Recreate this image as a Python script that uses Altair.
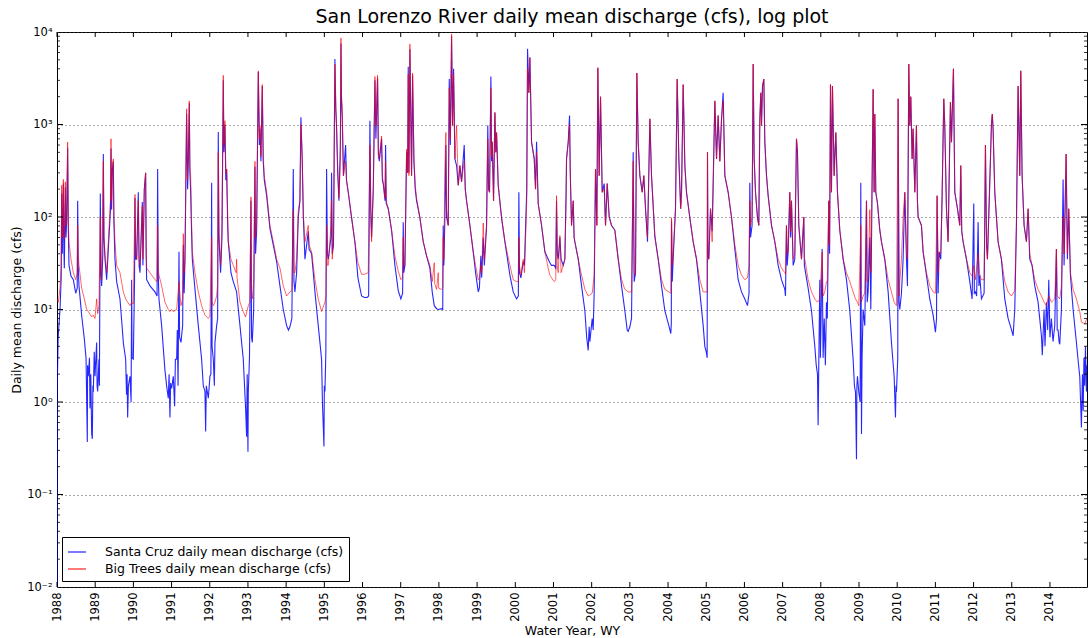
import altair as alt
import pandas as pd

# Daily mean discharge (cfs), sampled at water-year decimal times
santa_cruz = [
    (1988.000, 0.01), (1988.004, 1.3), (1988.030, 5), (1988.079, 10), (1988.110, 22), (1988.122, 180),
    (1988.140, 40), (1988.166, 230), (1988.180, 45), (1988.192, 28), (1988.218, 210), (1988.235, 60),
    (1988.253, 90), (1988.279, 560), (1988.295, 80), (1988.314, 30), (1988.366, 23), (1988.428, 21),
    (1988.489, 15), (1988.530, 17), (1988.541, 150), (1988.555, 30), (1988.576, 18), (1988.646, 8.6),
    (1988.716, 4.8), (1988.760, 3), (1988.794, 0.37), (1988.800, 2.5), (1988.820, 1.9), (1988.850, 3),
    (1988.864, 0.85), (1988.885, 2), (1988.908, 0.45), (1988.925, 0.40), (1988.940, 1.5), (1988.951, 1.28),
    (1988.975, 3.5), (1988.995, 1.9), (1989.038, 4.4), (1989.050, 1.5), (1989.065, 1.3), (1989.099, 2.9),
    (1989.110, 1.5), (1989.134, 180), (1989.150, 25), (1989.169, 18), (1989.200, 40), (1989.213, 480),
    (1989.230, 60), (1989.257, 35), (1989.300, 21), (1989.344, 45), (1989.400, 120), (1989.414, 550),
    (1989.430, 120), (1989.449, 330), (1989.475, 400), (1989.490, 90), (1989.518, 35), (1989.562, 20),
    (1989.649, 13), (1989.700, 7), (1989.736, 4.4), (1989.798, 2.9), (1989.820, 1.2), (1989.835, 2),
    (1989.850, 0.68), (1989.870, 1.5), (1989.911, 1.9), (1989.940, 1), (1989.955, 21), (1989.965, 3),
    (1989.998, 2.9), (1990.030, 20), (1990.042, 160), (1990.060, 35), (1990.086, 35), (1990.129, 185),
    (1990.150, 30), (1990.173, 25), (1990.234, 145), (1990.250, 30), (1990.286, 200), (1990.321, 300),
    (1990.335, 40), (1990.347, 21), (1990.435, 18), (1990.565, 15.5), (1990.620, 14), (1990.635, 330),
    (1990.650, 25), (1990.670, 13), (1990.740, 6.7), (1990.827, 2.2), (1990.870, 1.5), (1990.914, 1.1),
    (1990.935, 2), (1990.958, 0.68), (1990.975, 1.6), (1991.002, 1.4), (1991.045, 1.9), (1991.080, 0.9),
    (1991.100, 2.9), (1991.133, 2.9), (1991.150, 6), (1991.170, 1.5), (1991.194, 42), (1991.210, 5),
    (1991.246, 4.4), (1991.290, 6.7), (1991.307, 50), (1991.330, 15), (1991.351, 35), (1991.394, 1300),
    (1991.420, 200), (1991.438, 400), (1991.464, 1700), (1991.480, 300), (1991.499, 200), (1991.520, 80),
    (1991.543, 35), (1991.613, 16.5), (1991.700, 6.7), (1991.787, 2.9), (1991.830, 1.5), (1991.874, 1.3),
    (1991.892, 0.48), (1991.910, 1.5), (1991.962, 1.1), (1992.005, 1.9), (1992.030, 2), (1992.049, 235),
    (1992.060, 4), (1992.093, 2.9), (1992.120, 1.5), (1992.136, 4.4), (1992.180, 6.7), (1992.206, 8),
    (1992.223, 830), (1992.240, 60), (1992.284, 25), (1992.320, 60), (1992.354, 3000), (1992.370, 500),
    (1992.398, 1000), (1992.420, 250), (1992.442, 330), (1992.470, 80), (1992.485, 54), (1992.555, 25),
    (1992.616, 20), (1992.703, 15.5), (1992.791, 6.7), (1992.878, 2.9), (1992.910, 1.5), (1992.939, 0.85),
    (1992.965, 0.42), (1992.980, 2), (1993.000, 0.29), (1993.009, 1.28), (1993.040, 3), (1993.079, 150),
    (1993.095, 5), (1993.113, 4.4), (1993.150, 10), (1993.183, 350), (1993.200, 40), (1993.227, 70),
    (1993.271, 3700), (1993.300, 600), (1993.314, 900), (1993.340, 400), (1993.375, 2600), (1993.400, 400),
    (1993.428, 250), (1993.489, 170), (1993.576, 75), (1993.663, 50), (1993.750, 33), (1993.838, 18),
    (1993.925, 10), (1994.012, 6.7), (1994.060, 6), (1994.099, 6.5), (1994.150, 8), (1994.187, 330),
    (1994.205, 20), (1994.230, 15.5), (1994.274, 25), (1994.318, 100), (1994.360, 150), (1994.387, 1200),
    (1994.422, 400), (1994.450, 100), (1994.492, 35), (1994.579, 70), (1994.600, 45), (1994.667, 40),
    (1994.754, 15.5), (1994.841, 6.7), (1994.928, 2.9), (1994.950, 1), (1994.990, 0.33), (1995.000, 1.5),
    (1995.016, 1.3), (1995.040, 3.5), (1995.059, 330), (1995.080, 40), (1995.103, 35), (1995.173, 60),
    (1995.190, 300), (1995.208, 40), (1995.240, 50), (1995.277, 5100), (1995.300, 1500), (1995.321, 900),
    (1995.350, 300), (1995.382, 150), (1995.420, 600), (1995.435, 7500), (1995.450, 1800), (1995.469, 1200),
    (1995.500, 280), (1995.557, 600), (1995.580, 250), (1995.627, 185), (1995.714, 98), (1995.800, 54),
    (1995.880, 22), (1995.975, 14), (1996.050, 13.5), (1996.120, 13.5), (1996.160, 14), (1996.194, 1100),
    (1996.215, 120), (1996.237, 60), (1996.281, 200), (1996.325, 3000), (1996.350, 700), (1996.394, 3200),
    (1996.415, 500), (1996.440, 400), (1996.499, 700), (1996.520, 250), (1996.543, 230), (1996.590, 150),
    (1996.604, 600), (1996.620, 140), (1996.674, 123), (1996.761, 72), (1996.848, 30), (1996.935, 16),
    (1997.005, 13), (1997.050, 15), (1997.066, 88), (1997.080, 25), (1997.110, 30), (1997.154, 500),
    (1997.180, 300), (1997.197, 4200), (1997.215, 300), (1997.241, 6500), (1997.284, 280), (1997.311, 3400),
    (1997.346, 400), (1997.380, 200), (1997.415, 150), (1997.503, 98), (1997.590, 54), (1997.677, 38),
    (1997.764, 28), (1997.825, 15.5), (1997.878, 11), (1997.939, 10.2), (1997.983, 10), (1998.070, 10.2),
    (1998.100, 10), (1998.113, 81), (1998.130, 30), (1998.157, 100), (1998.183, 600), (1998.200, 100),
    (1998.244, 81), (1998.271, 3100), (1998.300, 600), (1998.332, 9000), (1998.358, 975), (1998.384, 4000),
    (1998.419, 425), (1998.463, 360), (1998.506, 220), (1998.550, 360), (1998.593, 240), (1998.663, 600),
    (1998.690, 200), (1998.724, 150), (1998.812, 81), (1998.899, 42), (1998.960, 25), (1999.030, 15.5),
    (1999.060, 17), (1999.099, 38), (1999.120, 22), (1999.161, 60), (1999.190, 30), (1999.248, 81),
    (1999.280, 975), (1999.300, 200), (1999.326, 185), (1999.361, 3300), (1999.380, 400), (1999.396, 650),
    (1999.431, 150), (1999.466, 1350), (1999.490, 500), (1999.510, 820), (1999.553, 220), (1999.641, 98),
    (1999.728, 54), (1999.859, 23.5), (1999.946, 15.5), (2000.033, 13), (2000.080, 14), (2000.094, 185),
    (2000.110, 25), (2000.147, 22), (2000.208, 33), (2000.240, 30), (2000.300, 200), (2000.321, 6600),
    (2000.356, 2200), (2000.382, 5300), (2000.426, 645), (2000.496, 425), (2000.530, 200), (2000.557, 650),
    (2000.600, 140), (2000.688, 81), (2000.775, 42), (2000.862, 35), (2000.906, 32), (2000.949, 30),
    (2001.019, 30), (2001.060, 28), (2001.080, 150), (2001.100, 40), (2001.124, 35), (2001.168, 60),
    (2001.200, 35), (2001.255, 30), (2001.298, 35), (2001.330, 185), (2001.342, 425), (2001.386, 645),
    (2001.421, 1250), (2001.440, 300), (2001.473, 81), (2001.517, 150), (2001.540, 60), (2001.560, 54),
    (2001.648, 35), (2001.735, 18), (2001.822, 9.7), (2001.870, 5), (2001.909, 3.6), (2001.935, 6.5),
    (2001.953, 4.5), (2002.014, 8), (2002.040, 6), (2002.066, 15.5), (2002.101, 330), (2002.136, 81),
    (2002.162, 4100), (2002.197, 280), (2002.232, 2000), (2002.276, 185), (2002.328, 230), (2002.363, 81),
    (2002.407, 230), (2002.459, 100), (2002.520, 81), (2002.607, 72), (2002.695, 35), (2002.782, 18),
    (2002.869, 9.7), (2002.930, 6), (2002.956, 5.8), (2003.000, 6.5), (2003.044, 8), (2003.087, 500),
    (2003.113, 20), (2003.148, 25), (2003.183, 3600), (2003.218, 645), (2003.262, 280), (2003.323, 185),
    (2003.366, 280), (2003.410, 123), (2003.462, 54), (2003.524, 1150), (2003.567, 280), (2003.654, 62),
    (2003.742, 35), (2003.829, 18), (2003.916, 9.7), (2004.021, 6.7), (2004.073, 5.5), (2004.085, 7),
    (2004.091, 90), (2004.110, 20), (2004.134, 35), (2004.195, 123), (2004.239, 3100), (2004.283, 425),
    (2004.330, 123), (2004.353, 200), (2004.396, 2700), (2004.440, 360), (2004.483, 185), (2004.571, 98),
    (2004.658, 54), (2004.745, 35), (2004.832, 15.5), (2004.920, 6.7), (2004.963, 4), (2005.000, 3.5),
    (2005.024, 3), (2005.033, 500), (2005.045, 40), (2005.068, 35), (2005.112, 123), (2005.155, 70),
    (2005.225, 1800), (2005.269, 425), (2005.312, 1250), (2005.356, 400), (2005.400, 1150), (2005.443, 2200),
    (2005.487, 280), (2005.574, 185), (2005.661, 100), (2005.749, 45), (2005.836, 21), (2005.923, 15.5),
    (2006.010, 13), (2006.080, 11), (2006.120, 15), (2006.141, 235), (2006.160, 60), (2006.200, 81),
    (2006.229, 4500), (2006.255, 425), (2006.290, 185), (2006.342, 98), (2006.377, 81), (2006.403, 1150),
    (2006.429, 2200), (2006.447, 975), (2006.473, 2600), (2006.508, 3100), (2006.534, 645), (2006.578, 280),
    (2006.621, 170), (2006.709, 81), (2006.796, 54), (2006.883, 30), (2006.970, 21), (2007.058, 16.5),
    (2007.075, 14), (2007.101, 81), (2007.120, 30), (2007.145, 42), (2007.188, 185), (2007.210, 60),
    (2007.232, 150), (2007.276, 30), (2007.319, 35), (2007.363, 700), (2007.389, 500), (2007.424, 81),
    (2007.494, 35), (2007.555, 100), (2007.570, 30), (2007.581, 28), (2007.668, 17), (2007.756, 9.7),
    (2007.843, 4), (2007.880, 2.5), (2007.913, 2), (2007.930, 0.56), (2007.945, 2.2), (2007.974, 21),
    (2007.990, 3), (2008.035, 45), (2008.060, 3), (2008.090, 8), (2008.120, 2.5), (2008.148, 12),
    (2008.170, 8), (2008.209, 150), (2008.230, 40), (2008.253, 2700), (2008.279, 185), (2008.305, 2600),
    (2008.349, 280), (2008.393, 820), (2008.436, 185), (2008.497, 72), (2008.585, 35), (2008.672, 21),
    (2008.759, 9.7), (2008.846, 2.9), (2008.880, 1.5), (2008.908, 1.28), (2008.934, 0.24), (2008.945, 1.5),
    (2008.960, 1.9), (2008.995, 1.28), (2009.030, 1.0), (2009.047, 235), (2009.060, 3), (2009.065, 0.45),
    (2009.080, 3), (2009.108, 10), (2009.152, 6.7), (2009.196, 150), (2009.215, 12), (2009.239, 15.5),
    (2009.283, 60), (2009.309, 10), (2009.370, 2400), (2009.396, 185), (2009.414, 1300), (2009.440, 185),
    (2009.484, 140), (2009.545, 72), (2009.588, 54), (2009.675, 35), (2009.763, 15.5), (2009.850, 4.4),
    (2009.920, 1.9), (2009.955, 0.68), (2009.970, 1.5), (2009.981, 1.28), (2010.015, 3), (2010.024, 1900),
    (2010.050, 12), (2010.068, 10), (2010.112, 15), (2010.155, 35), (2010.199, 185), (2010.243, 35),
    (2010.269, 18), (2010.304, 4500), (2010.330, 975), (2010.356, 2000), (2010.391, 425), (2010.417, 900),
    (2010.461, 185), (2010.504, 975), (2010.530, 150), (2010.548, 100), (2010.635, 81), (2010.679, 42),
    (2010.766, 23.5), (2010.853, 13), (2010.941, 8.7), (2011.002, 5.7), (2011.030, 8), (2011.045, 170),
    (2011.072, 15), (2011.098, 42), (2011.141, 35), (2011.176, 170), (2011.220, 1900), (2011.246, 975),
    (2011.290, 123), (2011.333, 54), (2011.394, 1750), (2011.421, 645), (2011.473, 4000), (2011.508, 185),
    (2011.578, 123), (2011.639, 81), (2011.665, 360), (2011.690, 70), (2011.726, 54), (2011.813, 35),
    (2011.901, 20), (2011.962, 13), (2012.005, 140), (2012.020, 15), (2012.049, 15.5), (2012.080, 14),
    (2012.119, 88), (2012.140, 18), (2012.162, 23.5), (2012.206, 13), (2012.276, 15), (2012.311, 600),
    (2012.340, 50), (2012.363, 35), (2012.424, 235), (2012.468, 1000), (2012.490, 1300), (2012.511, 900),
    (2012.555, 185), (2012.642, 54), (2012.729, 35), (2012.817, 13), (2012.904, 8), (2012.991, 6.1),
    (2013.035, 5.2), (2013.079, 10), (2013.122, 81), (2013.166, 2600), (2013.209, 280), (2013.236, 3800),
    (2013.271, 280), (2013.323, 81), (2013.384, 54), (2013.428, 123), (2013.471, 35), (2013.532, 30),
    (2013.602, 18), (2013.689, 12), (2013.777, 5.2), (2013.800, 3.2), (2013.846, 10), (2013.870, 4),
    (2013.908, 12), (2013.940, 6), (2013.969, 21), (2014.000, 5), (2014.038, 8), (2014.080, 4.5),
    (2014.126, 6.7), (2014.169, 45), (2014.190, 6), (2014.213, 6), (2014.240, 4.4), (2014.257, 4.2),
    (2014.300, 10), (2014.344, 255), (2014.370, 30), (2014.423, 480), (2014.457, 35), (2014.492, 123),
    (2014.536, 23.5), (2014.606, 10), (2014.693, 4.4), (2014.750, 2.5), (2014.780, 1.9), (2014.810, 0.8),
    (2014.824, 0.53), (2014.850, 2), (2014.870, 0.8), (2014.890, 3), (2014.911, 1.5), (2014.930, 4),
    (2014.955, 1.3), (2014.970, 2.5),
]

big_trees = [
    (1988.000, 13), (1988.035, 12), (1988.079, 17), (1988.110, 30), (1988.122, 220), (1988.140, 60),
    (1988.166, 255), (1988.180, 60), (1988.192, 58), (1988.218, 240), (1988.235, 80), (1988.253, 110),
    (1988.279, 645), (1988.295, 90), (1988.314, 54), (1988.366, 35), (1988.428, 25), (1988.489, 21),
    (1988.530, 25), (1988.541, 81), (1988.555, 40), (1988.576, 30), (1988.646, 17), (1988.716, 13),
    (1988.777, 10), (1988.820, 9.5), (1988.908, 8.3), (1988.951, 8.7), (1988.995, 8), (1989.038, 13),
    (1989.065, 9), (1989.099, 11), (1989.134, 100), (1989.150, 25), (1989.169, 21), (1989.213, 400),
    (1989.230, 60), (1989.257, 40), (1989.300, 25), (1989.344, 54), (1989.400, 150), (1989.414, 700),
    (1989.430, 150), (1989.449, 360), (1989.475, 425), (1989.490, 100), (1989.518, 54), (1989.562, 30),
    (1989.649, 25), (1989.736, 15.5), (1989.798, 13), (1989.850, 12), (1989.911, 11), (1989.955, 12),
    (1989.998, 11.5), (1990.042, 175), (1990.060, 40), (1990.086, 35), (1990.129, 150), (1990.150, 35),
    (1990.173, 30), (1990.234, 130), (1990.250, 35), (1990.286, 200), (1990.321, 300), (1990.335, 45),
    (1990.347, 28), (1990.435, 25), (1990.565, 21), (1990.620, 20), (1990.635, 81), (1990.650, 28),
    (1990.670, 23.5), (1990.740, 18), (1990.827, 12), (1990.914, 10), (1990.958, 9.5), (1991.002, 10),
    (1991.045, 9.5), (1991.133, 10), (1991.194, 20), (1991.246, 11), (1991.290, 13), (1991.307, 66),
    (1991.330, 25), (1991.351, 35), (1991.394, 1480), (1991.420, 250), (1991.438, 425), (1991.464, 1800),
    (1991.480, 350), (1991.499, 280), (1991.520, 100), (1991.543, 42), (1991.613, 25), (1991.700, 15.5),
    (1991.787, 11), (1991.874, 8.7), (1991.962, 8), (1992.005, 8.5), (1992.049, 60), (1992.060, 12),
    (1992.093, 11), (1992.136, 12), (1992.180, 14), (1992.206, 19), (1992.223, 500), (1992.240, 70),
    (1992.284, 30), (1992.320, 80), (1992.354, 3400), (1992.370, 600), (1992.398, 1100), (1992.420, 300),
    (1992.442, 330), (1992.470, 100), (1992.485, 54), (1992.555, 35), (1992.616, 30), (1992.690, 25),
    (1992.703, 35), (1992.715, 22), (1992.791, 12), (1992.878, 9.5), (1992.939, 8.3), (1993.009, 11),
    (1993.050, 12), (1993.079, 165), (1993.095, 15), (1993.113, 13), (1993.150, 20), (1993.183, 400),
    (1993.200, 60), (1993.227, 81), (1993.271, 3800), (1993.300, 700), (1993.314, 975), (1993.340, 450),
    (1993.375, 2700), (1993.400, 450), (1993.428, 280), (1993.489, 185), (1993.576, 81), (1993.663, 54),
    (1993.750, 35), (1993.838, 28), (1993.925, 18), (1994.012, 14), (1994.099, 15.5), (1994.150, 16),
    (1994.187, 120), (1994.205, 25), (1994.230, 25), (1994.274, 35), (1994.318, 118), (1994.360, 150),
    (1994.387, 1000), (1994.422, 425), (1994.450, 110), (1994.492, 54), (1994.579, 81), (1994.600, 50),
    (1994.667, 42), (1994.754, 21), (1994.841, 13), (1994.928, 9.5), (1995.016, 12), (1995.040, 14),
    (1995.059, 81), (1995.080, 30), (1995.103, 30), (1995.173, 81), (1995.190, 150), (1995.208, 35),
    (1995.240, 60), (1995.277, 4500), (1995.300, 1500), (1995.321, 975), (1995.350, 350), (1995.382, 160),
    (1995.420, 400), (1995.435, 8600), (1995.450, 2000), (1995.469, 1500), (1995.500, 280), (1995.557, 400),
    (1995.580, 250), (1995.627, 185), (1995.714, 98), (1995.800, 54), (1995.880, 32), (1995.975, 24),
    (1996.050, 24), (1996.150, 25), (1996.194, 600), (1996.215, 130), (1996.237, 54), (1996.281, 185),
    (1996.325, 3300), (1996.350, 975), (1996.394, 3400), (1996.415, 425), (1996.440, 450), (1996.499, 750),
    (1996.520, 280), (1996.543, 230), (1996.590, 160), (1996.604, 400), (1996.620, 150), (1996.674, 123),
    (1996.761, 72), (1996.848, 38), (1996.935, 26), (1997.005, 21), (1997.050, 22), (1997.066, 60),
    (1997.080, 30), (1997.110, 30), (1997.154, 540), (1997.180, 300), (1997.197, 3500), (1997.215, 280),
    (1997.241, 7400), (1997.284, 280), (1997.311, 3600), (1997.346, 425), (1997.380, 220), (1997.415, 160),
    (1997.503, 98), (1997.590, 54), (1997.677, 38), (1997.764, 30), (1997.825, 20), (1997.878, 32),
    (1997.890, 19), (1997.939, 16.5), (1997.983, 25), (1997.995, 17), (1998.070, 16.5), (1998.100, 17),
    (1998.113, 60), (1998.130, 35), (1998.157, 360), (1998.183, 820), (1998.200, 120), (1998.244, 81),
    (1998.271, 2500), (1998.300, 700), (1998.332, 9500), (1998.358, 975), (1998.384, 3500), (1998.419, 425),
    (1998.463, 975), (1998.506, 220), (1998.550, 360), (1998.593, 240), (1998.663, 400), (1998.690, 200),
    (1998.724, 150), (1998.812, 81), (1998.899, 42), (1998.960, 30), (1999.030, 21), (1999.060, 22),
    (1999.099, 30), (1999.120, 25), (1999.161, 86), (1999.190, 35), (1999.248, 81), (1999.280, 700),
    (1999.300, 200), (1999.326, 185), (1999.361, 2500), (1999.380, 450), (1999.396, 650), (1999.431, 150),
    (1999.466, 1350), (1999.490, 500), (1999.510, 820), (1999.553, 220), (1999.641, 98), (1999.728, 54),
    (1999.859, 30), (1999.946, 21), (2000.033, 20), (2000.080, 20), (2000.094, 60), (2000.110, 30),
    (2000.147, 23.5), (2000.208, 35), (2000.240, 25), (2000.300, 150), (2000.321, 4000), (2000.356, 2200),
    (2000.382, 5300), (2000.426, 645), (2000.496, 425), (2000.530, 200), (2000.557, 500), (2000.600, 140),
    (2000.688, 81), (2000.775, 42), (2000.862, 28), (2000.906, 23.5), (2000.949, 22), (2001.019, 20),
    (2001.060, 21), (2001.080, 170), (2001.100, 30), (2001.124, 25), (2001.168, 63), (2001.200, 25),
    (2001.255, 30), (2001.298, 35), (2001.330, 150), (2001.342, 425), (2001.386, 645), (2001.421, 1000),
    (2001.440, 300), (2001.473, 81), (2001.517, 150), (2001.540, 60), (2001.560, 54), (2001.648, 35),
    (2001.735, 23.5), (2001.822, 16.5), (2001.909, 14), (2002.014, 15), (2002.066, 23.5), (2002.101, 330),
    (2002.136, 81), (2002.162, 4100), (2002.197, 280), (2002.232, 2000), (2002.276, 185), (2002.328, 200),
    (2002.363, 81), (2002.407, 230), (2002.459, 100), (2002.520, 81), (2002.607, 72), (2002.695, 35),
    (2002.782, 21), (2002.869, 16.5), (2002.956, 15.5), (2003.044, 15.5), (2003.087, 400), (2003.113, 25),
    (2003.148, 23.5), (2003.183, 3600), (2003.218, 645), (2003.262, 280), (2003.323, 185), (2003.366, 280),
    (2003.410, 123), (2003.462, 60), (2003.524, 1150), (2003.567, 280), (2003.654, 62), (2003.742, 35),
    (2003.829, 21), (2003.916, 16.5), (2004.021, 15.5), (2004.073, 15), (2004.091, 98), (2004.110, 30),
    (2004.134, 40), (2004.195, 123), (2004.239, 3100), (2004.283, 425), (2004.330, 123), (2004.353, 150),
    (2004.396, 2700), (2004.440, 360), (2004.483, 185), (2004.571, 98), (2004.658, 54), (2004.745, 35),
    (2004.832, 21), (2004.920, 15.5), (2005.024, 15.5), (2005.033, 500), (2005.045, 35), (2005.068, 35),
    (2005.112, 123), (2005.155, 54), (2005.225, 1800), (2005.269, 425), (2005.312, 1250), (2005.356, 400),
    (2005.400, 1150), (2005.443, 1800), (2005.487, 280), (2005.574, 185), (2005.661, 100), (2005.749, 50),
    (2005.836, 30), (2005.923, 23.5), (2006.010, 21), (2006.080, 22), (2006.120, 30), (2006.141, 150),
    (2006.160, 81), (2006.200, 100), (2006.229, 4500), (2006.255, 425), (2006.290, 185), (2006.342, 98),
    (2006.377, 81), (2006.403, 1150), (2006.429, 2200), (2006.447, 975), (2006.473, 2600), (2006.508, 3100),
    (2006.534, 645), (2006.578, 280), (2006.621, 170), (2006.709, 81), (2006.796, 54), (2006.883, 35),
    (2006.970, 28), (2007.058, 25), (2007.075, 24), (2007.101, 81), (2007.120, 40), (2007.145, 42),
    (2007.188, 185), (2007.210, 70), (2007.232, 150), (2007.276, 35), (2007.319, 40), (2007.363, 700),
    (2007.389, 500), (2007.424, 81), (2007.494, 35), (2007.555, 100), (2007.570, 35), (2007.581, 35),
    (2007.668, 21), (2007.756, 15.5), (2007.843, 13), (2007.913, 12), (2007.974, 13), (2008.035, 42),
    (2008.060, 14), (2008.105, 15.5), (2008.148, 20), (2008.170, 20), (2008.209, 150), (2008.230, 50),
    (2008.253, 2700), (2008.279, 185), (2008.305, 2600), (2008.349, 280), (2008.393, 820), (2008.436, 185),
    (2008.497, 72), (2008.585, 35), (2008.672, 25), (2008.759, 20), (2008.846, 15.5), (2008.908, 13),
    (2008.960, 12), (2008.995, 11), (2009.047, 81), (2009.060, 12), (2009.108, 14), (2009.152, 15),
    (2009.196, 150), (2009.215, 20), (2009.239, 23), (2009.283, 120), (2009.309, 25), (2009.370, 2400),
    (2009.396, 185), (2009.414, 1300), (2009.440, 185), (2009.484, 140), (2009.545, 72), (2009.588, 54),
    (2009.675, 35), (2009.763, 21), (2009.850, 15.5), (2009.920, 12), (2009.981, 11), (2010.024, 1900),
    (2010.050, 14), (2010.068, 20), (2010.112, 35), (2010.155, 100), (2010.199, 185), (2010.243, 45),
    (2010.269, 35), (2010.304, 4500), (2010.330, 975), (2010.356, 2000), (2010.391, 425), (2010.417, 900),
    (2010.461, 185), (2010.504, 975), (2010.530, 150), (2010.548, 100), (2010.635, 81), (2010.679, 42),
    (2010.766, 25), (2010.853, 18), (2010.941, 15.5), (2011.002, 15), (2011.045, 170), (2011.072, 25),
    (2011.098, 42), (2011.141, 40), (2011.176, 170), (2011.220, 1900), (2011.246, 975), (2011.290, 123),
    (2011.333, 54), (2011.394, 1750), (2011.421, 645), (2011.473, 4000), (2011.508, 185), (2011.578, 123),
    (2011.639, 81), (2011.665, 360), (2011.690, 70), (2011.726, 54), (2011.813, 35), (2011.901, 25),
    (2011.962, 23), (2012.005, 30), (2012.049, 21), (2012.119, 40), (2012.162, 23.5), (2012.206, 21),
    (2012.276, 21), (2012.311, 600), (2012.340, 50), (2012.363, 35), (2012.424, 235), (2012.468, 1000),
    (2012.490, 1300), (2012.511, 900), (2012.555, 185), (2012.642, 54), (2012.729, 35), (2012.817, 20),
    (2012.904, 15.5), (2012.991, 14), (2013.079, 16), (2013.122, 81), (2013.166, 2600), (2013.209, 280),
    (2013.236, 3800), (2013.271, 280), (2013.323, 81), (2013.384, 54), (2013.428, 123), (2013.471, 40),
    (2013.532, 30), (2013.602, 21), (2013.689, 16.5), (2013.777, 14), (2013.846, 12), (2013.908, 11),
    (2013.969, 14), (2014.038, 12), (2014.126, 13), (2014.169, 45), (2014.190, 14), (2014.257, 13),
    (2014.300, 18), (2014.344, 100), (2014.370, 40), (2014.423, 480), (2014.457, 40), (2014.492, 123),
    (2014.536, 25), (2014.606, 16.5), (2014.693, 13), (2014.780, 9.5), (2014.824, 7.3), (2014.911, 7),
    (2014.970, 8),
]

SC = "Santa Cruz daily mean discharge (cfs)"
BT = "Big Trees daily mean discharge (cfs)"

years = list(range(1988, 2015))
decades = [0.01, 0.1, 1, 10, 100, 1000, 10000]
decade_labels = ["10\u207b\u00b2", "10\u207b\u00b9", "10\u2070", "10\u00b9", "10\u00b2", "10\u00b3", "10\u2074"]

W, H = 1030, 555
FONT = "DejaVu Sans"

sc_df = pd.DataFrame(santa_cruz, columns=["wy", "cfs"]).assign(gauge=SC)
bt_df = pd.DataFrame(big_trees, columns=["wy", "cfs"]).assign(gauge=BT)

x_scale = alt.Scale(domain=[1988, 2014.97], nice=False, zero=False)
y_scale = alt.Scale(type="log", domain=[0.01, 10000], nice=False)

label_expr = "".join(
    f"datum.value < {v * 3} ? '{t}' : " for v, t in zip(decades[:-1], decade_labels[:-1])
) + f"'{decade_labels[-1]}'"

x_axis = alt.Axis(values=years, format="d", labelAngle=270, labelAlign="right", labelBaseline="middle",
                  labelPadding=5, ticks=False, domain=False, grid=False, labelFontSize=11.5,
                  title="Water Year, WY", titleFontSize=12.5, titleFontWeight="normal", titlePadding=3)
y_axis = alt.Axis(values=decades, labelExpr=label_expr, ticks=False, domain=False, grid=True,
                  gridDash=[1, 3], gridColor="#444444", gridOpacity=0.9, labelFontSize=11.5, labelPadding=5,
                  title="Daily mean discharge (cfs)", titleFontSize=12.5, titleFontWeight="normal",
                  titlePadding=3)

x_enc = alt.X("wy:Q", scale=x_scale, axis=x_axis)
y_enc = alt.Y("cfs:Q", scale=y_scale, axis=y_axis)
color_enc = alt.Color(
    "gauge:N",
    scale=alt.Scale(domain=[SC, BT], range=["#0000ff", "#ff0000"]),
    legend=alt.Legend(title=None, orient="none", legendX=5, legendY=505, symbolType="stroke",
                      symbolSize=324, symbolStrokeWidth=1.3, labelFontSize=12.5, labelFont=FONT,
                      labelLimit=0, labelOffset=18, padding=5, rowPadding=0, strokeColor="black",
                      fillColor="white", cornerRadius=0, symbolOpacity=0.8),
)

sc_line = alt.Chart(sc_df).mark_line(strokeWidth=1.1, opacity=0.85, clip=True).encode(
    x=x_enc, y=y_enc, color=color_enc)
bt_line = alt.Chart(bt_df).mark_line(strokeWidth=1, opacity=0.6, clip=True).encode(
    x=x_enc, y=y_enc, color=color_enc)

# Inward-pointing tick marks on all four sides of the frame
yr_df = pd.DataFrame({"wy": years})
major_df = pd.DataFrame({"cfs": decades[1:-1]})
minor_df = pd.DataFrame({"cfs": [d * k for d in decades[:-1] for k in range(2, 10)]})

top_ticks = alt.Chart(yr_df).mark_rule(color="black", strokeWidth=1).encode(
    x=x_enc, y=alt.value(0), y2=alt.value(5))
bottom_ticks = alt.Chart(yr_df).mark_rule(color="black", strokeWidth=1).encode(
    x=x_enc, y=alt.value(H - 5), y2=alt.value(H))
left_major = alt.Chart(major_df).mark_rule(color="black", strokeWidth=1).encode(
    y=y_enc, x=alt.value(0), x2=alt.value(6))
right_major = alt.Chart(major_df).mark_rule(color="black", strokeWidth=1).encode(
    y=y_enc, x=alt.value(W - 6), x2=alt.value(W))
left_minor = alt.Chart(minor_df).mark_rule(color="black", strokeWidth=0.8).encode(
    y=y_enc, x=alt.value(0), x2=alt.value(3))
right_minor = alt.Chart(minor_df).mark_rule(color="black", strokeWidth=0.8).encode(
    y=y_enc, x=alt.value(W - 3), x2=alt.value(W))

chart = alt.layer(
    sc_line, bt_line, top_ticks, bottom_ticks, left_major, right_major, left_minor, right_minor
).properties(
    width=W, height=H,
    padding={"left": 57, "top": 32, "right": 1, "bottom": 51},
    autosize=alt.AutoSizeParams(type="none"),
    title=alt.Title("San Lorenzo River daily mean discharge (cfs), log plot", fontSize=19, font=FONT,
                    fontWeight="normal", anchor="middle", offset=-1, color="black"),
).configure_view(
    stroke="black", strokeWidth=1
).configure_axis(
    labelFont=FONT, titleFont=FONT, labelColor="black", titleColor="black"
)

chart.save("out.html", embed_options={"renderer": "svg", "actions": False})
